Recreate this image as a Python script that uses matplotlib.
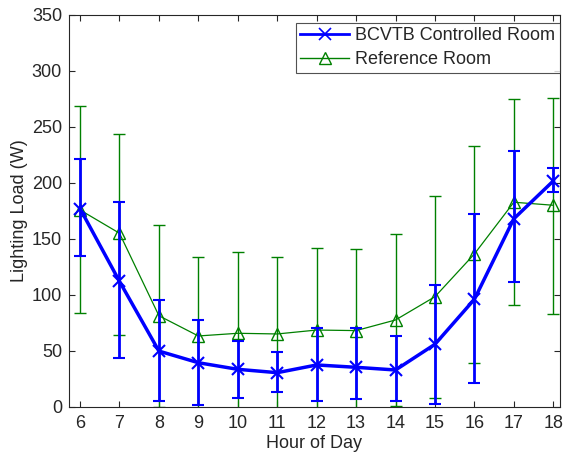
import matplotlib
matplotlib.use("Agg")
import matplotlib.pyplot as plt
from matplotlib.lines import Line2D
import numpy as np

hours = [6, 7, 8, 9, 10, 11, 12, 13, 14, 15, 16, 17, 18]

bcvtb_mean = [177, 112, 49.7, 39.3, 33.4, 30.4, 37.3, 35.2, 32.8, 55.8, 96, 168, 201.7]
bcvtb_upper = [221.4, 183, 95, 77.5, 59, 48.6, 70.6, 70, 63.2, 109, 172.5, 228.5, 213.3]
bcvtb_lower = [134.7, 43.8, 4.8, 1.5, 7.8, 12.9, 4.8, 6.6, 4.8, 2.7, 21.2, 111.4, 191.9]

ref_mean = [175.8, 155, 81.3, 63.2, 65.6, 65, 68.5, 68, 77.5, 98.3, 136.5, 182.7, 180]
ref_upper = [269, 243.7, 162.6, 134, 138, 134, 142, 141, 154.6, 188.6, 233, 274.7, 276]
ref_lower = [84, 64.3, 0, -8, -7, -4, -5, -5, 0.4, 8, 39, 91.2, 83.1]

plt.rcParams['font.family'] = ['Liberation Sans', 'DejaVu Sans']
TXT = '#262626'

fig = plt.figure(figsize=(5.64, 4.53), dpi=100)
ax = fig.add_axes([69/564, 1-406.7/453, (560-69)/564, (406.7-15)/453])

x = np.array(hours)
b_err = [np.array(bcvtb_mean) - np.array(bcvtb_lower), np.array(bcvtb_upper) - np.array(bcvtb_mean)]
r_err = [np.array(ref_mean) - np.array(ref_lower), np.array(ref_upper) - np.array(ref_mean)]

GREEN = '#008000'
BLUE = '#0000ff'
ax.errorbar(x, ref_mean, yerr=r_err, color=GREEN, lw=0.9, elinewidth=1.0,
            capsize=4, capthick=1.0, marker='^', ms=8, mfc='none', mec=GREEN,
            mew=1.0, zorder=2)
ax.errorbar(x, bcvtb_mean, yerr=b_err, color=BLUE, lw=2.5, elinewidth=2.0,
            capsize=4, capthick=2.0, marker='x', ms=9, mew=1.5, zorder=3)

ax.set_xlim(5.72, 18.17)
ax.set_ylim(0, 350)
ax.set_xticks(hours)
ax.set_yticks(range(0, 351, 50))
ax.tick_params(direction='in', top=True, right=True, labelsize=13, length=4,
               width=0.8, colors=TXT, labelcolor=TXT)
ax.tick_params(axis='x', pad=6)
ax.tick_params(axis='y', pad=5)
ax.set_xlabel('Hour of Day', fontsize=13, labelpad=2, color=TXT)
ax.set_ylabel('Lighting Load (W)', fontsize=13, labelpad=3, color=TXT)
for s in ax.spines.values():
    s.set_linewidth(0.8)
    s.set_color(TXT)

handles = [Line2D([], [], color=BLUE, lw=2, marker='x', ms=9, mew=1.2),
           Line2D([], [], color=GREEN, lw=1, marker='^', ms=8, mfc='none', mew=1.0)]
labels = ['BCVTB Controlled Room', 'Reference Room']
leg = ax.legend(handles, labels, loc='upper right',
                bbox_to_anchor=(1.0, 1 - 7.7/391.7), fontsize=13,
                frameon=True, fancybox=False, edgecolor=TXT, borderaxespad=0.0,
                handlelength=2.7, borderpad=0.25, labelspacing=0.4, handletextpad=0.35)
leg.get_frame().set_linewidth(0.8)
for t in leg.get_texts():
    t.set_color(TXT)

fig.savefig('out.png', dpi=100)
